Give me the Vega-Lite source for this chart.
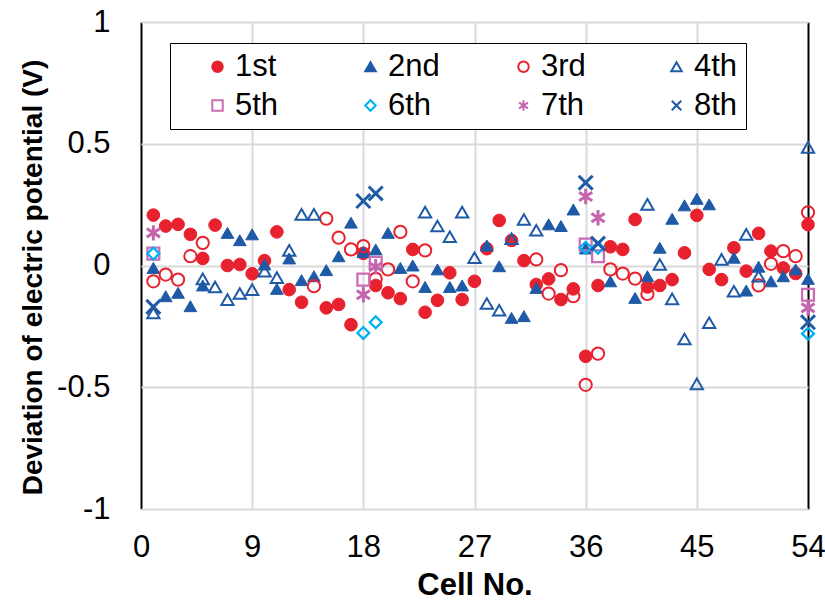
{
  "$schema": "https://vega.github.io/schema/vega-lite/v6.json",
  "width": 667,
  "height": 487,
  "autosize": {"type": "none"},
  "padding": {"left": 141, "top": 22, "right": 17, "bottom": 91},
  "background": "white",
  "config": {"view": {"stroke": null}, "font": "Liberation Sans"},
  "datasets": {
    "pts": [
      {"cell":1,"series":"1st","v":0.207},{"cell":2,"series":"1st","v":0.162},{"cell":3,"series":"1st","v":0.169},{"cell":4,"series":"1st","v":0.128},{"cell":5,"series":"1st","v":0.029},{"cell":6,"series":"1st","v":0.166},{"cell":7,"series":"1st","v":0.0},{"cell":8,"series":"1st","v":0.004},{"cell":9,"series":"1st","v":-0.034},{"cell":10,"series":"1st","v":0.02},{"cell":11,"series":"1st","v":0.138},{"cell":12,"series":"1st","v":-0.099},{"cell":13,"series":"1st","v":-0.151},{"cell":15,"series":"1st","v":-0.174},{"cell":16,"series":"1st","v":-0.16},{"cell":17,"series":"1st","v":-0.243},{"cell":18,"series":"1st","v":0.05},{"cell":19,"series":"1st","v":-0.082},{"cell":20,"series":"1st","v":-0.112},{"cell":21,"series":"1st","v":-0.136},{"cell":22,"series":"1st","v":0.066},{"cell":23,"series":"1st","v":-0.192},{"cell":24,"series":"1st","v":-0.143},{"cell":25,"series":"1st","v":-0.03},{"cell":26,"series":"1st","v":-0.14},{"cell":27,"series":"1st","v":-0.065},{"cell":28,"series":"1st","v":0.069},{"cell":29,"series":"1st","v":0.185},{"cell":30,"series":"1st","v":0.103},{"cell":31,"series":"1st","v":0.02},{"cell":32,"series":"1st","v":-0.078},{"cell":33,"series":"1st","v":-0.055},{"cell":34,"series":"1st","v":-0.14},{"cell":35,"series":"1st","v":-0.096},{"cell":36,"series":"1st","v":-0.373},{"cell":37,"series":"1st","v":-0.082},{"cell":38,"series":"1st","v":0.077},{"cell":39,"series":"1st","v":0.066},{"cell":40,"series":"1st","v":0.189},{"cell":41,"series":"1st","v":-0.088},{"cell":42,"series":"1st","v":-0.082},{"cell":43,"series":"1st","v":-0.058},{"cell":44,"series":"1st","v":0.052},{"cell":45,"series":"1st","v":0.206},{"cell":46,"series":"1st","v":-0.016},{"cell":47,"series":"1st","v":-0.058},{"cell":48,"series":"1st","v":0.073},{"cell":49,"series":"1st","v":-0.023},{"cell":50,"series":"1st","v":0.132},{"cell":51,"series":"1st","v":0.059},{"cell":52,"series":"1st","v":-0.01},{"cell":53,"series":"1st","v":-0.033},{"cell":54,"series":"1st","v":0.168},
      {"cell":1,"series":"2nd","v":-0.01},{"cell":2,"series":"2nd","v":-0.126},{"cell":3,"series":"2nd","v":-0.112},{"cell":4,"series":"2nd","v":-0.167},{"cell":5,"series":"2nd","v":-0.082},{"cell":7,"series":"2nd","v":0.134},{"cell":8,"series":"2nd","v":0.104},{"cell":9,"series":"2nd","v":0.128},{"cell":10,"series":"2nd","v":0.004},{"cell":11,"series":"2nd","v":-0.096},{"cell":12,"series":"2nd","v":0.029},{"cell":13,"series":"2nd","v":-0.06},{"cell":14,"series":"2nd","v":-0.044},{"cell":15,"series":"2nd","v":-0.019},{"cell":16,"series":"2nd","v":0.038},{"cell":17,"series":"2nd","v":0.176},{"cell":18,"series":"2nd","v":0.055},{"cell":19,"series":"2nd","v":0.066},{"cell":20,"series":"2nd","v":0.134},{"cell":21,"series":"2nd","v":-0.01},{"cell":22,"series":"2nd","v":0.0},{"cell":23,"series":"2nd","v":-0.088},{"cell":24,"series":"2nd","v":-0.016},{"cell":25,"series":"2nd","v":-0.088},{"cell":26,"series":"2nd","v":-0.082},{"cell":28,"series":"2nd","v":0.082},{"cell":29,"series":"2nd","v":-0.003},{"cell":30,"series":"2nd","v":-0.215},{"cell":31,"series":"2nd","v":-0.208},{"cell":32,"series":"2nd","v":-0.092},{"cell":33,"series":"2nd","v":0.169},{"cell":34,"series":"2nd","v":0.162},{"cell":35,"series":"2nd","v":0.23},{"cell":36,"series":"2nd","v":0.07},{"cell":38,"series":"2nd","v":-0.065},{"cell":40,"series":"2nd","v":-0.133},{"cell":41,"series":"2nd","v":-0.044},{"cell":42,"series":"2nd","v":0.073},{"cell":43,"series":"2nd","v":0.192},{"cell":44,"series":"2nd","v":0.247},{"cell":45,"series":"2nd","v":0.274},{"cell":46,"series":"2nd","v":0.251},{"cell":48,"series":"2nd","v":0.032},{"cell":49,"series":"2nd","v":-0.103},{"cell":50,"series":"2nd","v":-0.005},{"cell":51,"series":"2nd","v":-0.065},{"cell":52,"series":"2nd","v":-0.044},{"cell":53,"series":"2nd","v":-0.016},{"cell":54,"series":"2nd","v":-0.055},
      {"cell":1,"series":"3rd","v":-0.065},{"cell":2,"series":"3rd","v":-0.037},{"cell":3,"series":"3rd","v":-0.058},{"cell":4,"series":"3rd","v":0.038},{"cell":5,"series":"3rd","v":0.093},{"cell":14,"series":"3rd","v":-0.085},{"cell":15,"series":"3rd","v":0.192},{"cell":16,"series":"3rd","v":0.114},{"cell":17,"series":"3rd","v":0.066},{"cell":18,"series":"3rd","v":0.08},{"cell":19,"series":"3rd","v":-0.055},{"cell":20,"series":"3rd","v":-0.016},{"cell":21,"series":"3rd","v":0.138},{"cell":22,"series":"3rd","v":-0.065},{"cell":23,"series":"3rd","v":0.062},{"cell":32,"series":"3rd","v":0.025},{"cell":33,"series":"3rd","v":-0.115},{"cell":34,"series":"3rd","v":-0.019},{"cell":35,"series":"3rd","v":-0.126},{"cell":36,"series":"3rd","v":-0.49},{"cell":37,"series":"3rd","v":-0.362},{"cell":38,"series":"3rd","v":-0.016},{"cell":39,"series":"3rd","v":-0.033},{"cell":40,"series":"3rd","v":-0.054},{"cell":41,"series":"3rd","v":-0.117},{"cell":50,"series":"3rd","v":-0.082},{"cell":51,"series":"3rd","v":0.007},{"cell":52,"series":"3rd","v":0.059},{"cell":53,"series":"3rd","v":0.038},{"cell":54,"series":"3rd","v":0.218},
      {"cell":1,"series":"4th","v":-0.195},{"cell":5,"series":"4th","v":-0.055},{"cell":6,"series":"4th","v":-0.088},{"cell":7,"series":"4th","v":-0.14},{"cell":8,"series":"4th","v":-0.115},{"cell":9,"series":"4th","v":-0.099},{"cell":10,"series":"4th","v":-0.023},{"cell":11,"series":"4th","v":-0.05},{"cell":12,"series":"4th","v":0.062},{"cell":13,"series":"4th","v":0.21},{"cell":14,"series":"4th","v":0.21},{"cell":23,"series":"4th","v":0.219},{"cell":24,"series":"4th","v":0.162},{"cell":25,"series":"4th","v":0.118},{"cell":26,"series":"4th","v":0.219},{"cell":27,"series":"4th","v":0.032},{"cell":28,"series":"4th","v":-0.156},{"cell":29,"series":"4th","v":-0.184},{"cell":30,"series":"4th","v":0.11},{"cell":31,"series":"4th","v":0.189},{"cell":32,"series":"4th","v":0.145},{"cell":41,"series":"4th","v":0.251},{"cell":42,"series":"4th","v":0.004},{"cell":43,"series":"4th","v":-0.137},{"cell":44,"series":"4th","v":-0.302},{"cell":45,"series":"4th","v":-0.486},{"cell":46,"series":"4th","v":-0.235},{"cell":47,"series":"4th","v":0.025},{"cell":48,"series":"4th","v":-0.106},{"cell":49,"series":"4th","v":0.128},{"cell":50,"series":"4th","v":-0.044},{"cell":54,"series":"4th","v":0.485},
      {"cell":1,"series":"5th","v":0.049},{"cell":18,"series":"5th","v":-0.058},{"cell":19,"series":"5th","v":0.011},{"cell":36,"series":"5th","v":0.086},{"cell":37,"series":"5th","v":0.038},{"cell":54,"series":"5th","v":-0.12},
      {"cell":1,"series":"6th","v":0.049},{"cell":18,"series":"6th","v":-0.277},{"cell":19,"series":"6th","v":-0.233},{"cell":36,"series":"6th","v":0.073},{"cell":37,"series":"6th","v":0.073},{"cell":54,"series":"6th","v":-0.28},
      {"cell":1,"series":"7th","v":0.134},{"cell":18,"series":"7th","v":-0.12},{"cell":19,"series":"7th","v":-0.005},{"cell":36,"series":"7th","v":0.283},{"cell":37,"series":"7th","v":0.196},{"cell":54,"series":"7th","v":-0.174},
      {"cell":1,"series":"8th","v":-0.17},{"cell":18,"series":"8th","v":0.265},{"cell":19,"series":"8th","v":0.296},{"cell":36,"series":"8th","v":0.34},{"cell":37,"series":"8th","v":0.09},{"cell":54,"series":"8th","v":-0.233}
    ]
  },
  "data": {"name": "pts"},
  "encoding": {
    "x": {
      "field": "cell", "type": "quantitative",
      "scale": {"domain": [0, 54], "nice": false, "zero": false},
      "axis": {
        "values": [0, 9, 18, 27, 36, 45, 54],
        "title": "Cell No.", "titleFontSize": 31, "titleFontWeight": "bold", "titleColor": "black", "titlePadding": 8,
        "labelFontSize": 31, "labelColor": "black", "labelPadding": 23, "labelFlush": false,
        "domain": false, "ticks": false, "grid": true, "gridWidth": 2,
        "gridColor": {"condition": {"test": "datum.value === 0 || datum.value === 54", "value": "black"}, "value": "#D9D9D9"}
      }
    },
    "y": {
      "field": "v", "type": "quantitative",
      "scale": {"domain": [-1, 1], "nice": false},
      "axis": {
        "values": [-1, -0.5, 0, 0.5, 1],
        "labelExpr": "datum.value + ''",
        "title": "Deviation of electric potential (V)", "titleFontSize": 28, "titleFontWeight": "bold", "titleColor": "black", "titlePadding": 9, "titleLimit": 0, "titleY": 255,
        "labelFontSize": 31, "labelColor": "black", "labelPadding": 31, "labelFlush": false,
        "domain": false, "ticks": false, "grid": true, "gridWidth": 2, "gridColor": "#D9D9D9"
      }
    },
    "shape": {
      "field": "series", "type": "nominal",
      "scale": {
        "domain": ["1st", "2nd", "3rd", "4th", "5th", "6th", "7th", "8th"],
        "range": ["circle", "triangle-up", "circle", "triangle-up", "square", "diamond", "M0,-1L0,1M-0.85,-0.55L0.85,0.55M-0.85,0.55L0.85,-0.55", "M-0.9,-0.9L0.9,0.9M-0.9,0.9L0.9,-0.9"]
      },
      "legend": {
        "orient": "none", "legendX": 29, "legendY": 21, "direction": "horizontal", "columns": 4,
        "title": " ", "titleOrient": "left", "titlePadding": 24, "titleFontSize": 8,
        "labelFontSize": 31, "labelColor": "black", "labelOffset": 2, "labelFont": "Liberation Sans",
        "symbolSize": 110, "symbolStrokeWidth": 2, "columnPadding": 68, "rowPadding": 7, "padding": 8,
        "fillColor": "white", "strokeColor": "black", "gridAlign": "all"
      }
    },
    "fill": {
      "field": "series", "type": "nominal",
      "scale": {
        "domain": ["1st", "2nd", "3rd", "4th", "5th", "6th", "7th", "8th"],
        "range": ["#E8212E", "#1F5AA6", "transparent", "transparent", "transparent", "transparent", "transparent", "transparent"]
      },
      "legend": {
        "orient": "none", "legendX": 29, "legendY": 21, "direction": "horizontal", "columns": 4,
        "title": " ", "titleOrient": "left", "titlePadding": 24, "titleFontSize": 8,
        "labelFontSize": 31, "labelColor": "black", "labelOffset": 2, "labelFont": "Liberation Sans",
        "symbolSize": 110, "symbolStrokeWidth": 2, "columnPadding": 68, "rowPadding": 7, "padding": 8,
        "fillColor": "white", "strokeColor": "black", "gridAlign": "all"
      }
    },
    "stroke": {
      "field": "series", "type": "nominal",
      "scale": {
        "domain": ["1st", "2nd", "3rd", "4th", "5th", "6th", "7th", "8th"],
        "range": ["#E8212E", "#1F5AA6", "#E8212E", "#1F5AA6", "#CC6DB3", "#00B0F0", "#C565AE", "#1F5AA6"]
      },
      "legend": {
        "orient": "none", "legendX": 29, "legendY": 21, "direction": "horizontal", "columns": 4,
        "title": " ", "titleOrient": "left", "titlePadding": 24, "titleFontSize": 8,
        "labelFontSize": 31, "labelColor": "black", "labelOffset": 2, "labelFont": "Liberation Sans",
        "symbolSize": 110, "symbolStrokeWidth": 2, "columnPadding": 68, "rowPadding": 7, "padding": 8,
        "fillColor": "white", "strokeColor": "black", "gridAlign": "all"
      }
    }
  },
  "layer": [
    {
      "transform": [{"filter": "datum.series === '1st' || datum.series === '2nd'"}],
      "mark": {"type": "point", "opacity": 1, "size": 160, "strokeWidth": 1}
    },
    {
      "transform": [{"filter": "datum.series === '3rd' || datum.series === '4th'"}],
      "mark": {"type": "point", "opacity": 1, "size": 150, "strokeWidth": 2}
    },
    {
      "transform": [{"filter": "datum.series === '5th' || datum.series === '6th'"}],
      "mark": {"type": "point", "opacity": 1, "size": 140, "strokeWidth": 2.3}
    },
    {
      "transform": [{"filter": "datum.series === '7th' || datum.series === '8th'"}],
      "mark": {"type": "point", "opacity": 1, "size": 240, "strokeWidth": 3}
    }
  ]
}
